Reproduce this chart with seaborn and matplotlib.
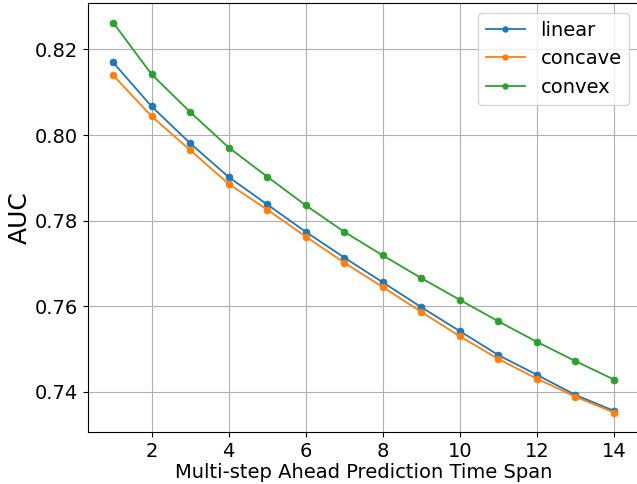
import numpy as np
import pandas as pd
import matplotlib
matplotlib.use('Agg')
import matplotlib.pyplot as plt
import seaborn as sns

# values
steps = list(range(1, 15))
auc_linear = [0.8170, 0.8067, 0.7981, 0.7902, 0.7838, 0.7774, 0.7714, 0.7656,
              0.7598, 0.7542, 0.7486, 0.7440, 0.7393, 0.7356]
auc_concave = [0.8140, 0.8044, 0.7965, 0.7886, 0.7826, 0.7763, 0.7702, 0.7645,
               0.7587, 0.7530, 0.7477, 0.7431, 0.7389, 0.7352]
auc_convex = [0.8263, 0.8142, 0.8054, 0.7971, 0.7903, 0.7836, 0.7774, 0.7719,
              0.7666, 0.7615, 0.7565, 0.7517, 0.7472, 0.7429]

df = pd.DataFrame({
    'step': steps * 3,
    'auc': auc_linear + auc_concave + auc_convex,
    'shape': ['linear'] * 14 + ['concave'] * 14 + ['convex'] * 14,
})

fig = plt.figure(figsize=(6.37, 4.84), dpi=100)
ax = fig.add_axes([88 / 637, 52 / 484, 551 / 637, 429 / 484])

colors = ['#1f77b4', '#ff7f0e', '#2ca02c']
for name, c in zip(['linear', 'concave', 'convex'], colors):
    sub = df[df['shape'] == name]
    sns.lineplot(data=sub, x='step', y='auc', ax=ax, color=c, label=name,
                 marker='o', markersize=5, markeredgecolor=None,
                 markeredgewidth=0.5, linewidth=1.3, legend=False)

ax.grid(True, color='#b0b0b0', linewidth=0.8)
ax.set_axisbelow(True)
ax.set_xticks([2, 4, 6, 8, 10, 12, 14])
ax.tick_params(labelsize=14)
ax.set_xlabel('Multi-step Ahead Prediction Time Span', fontsize=14, labelpad=2)
ax.set_ylabel('AUC', fontsize=18, labelpad=2)
ax.legend(loc='upper right', fontsize=14, markerscale=0.8)

fig.savefig('out.png', dpi=100)
